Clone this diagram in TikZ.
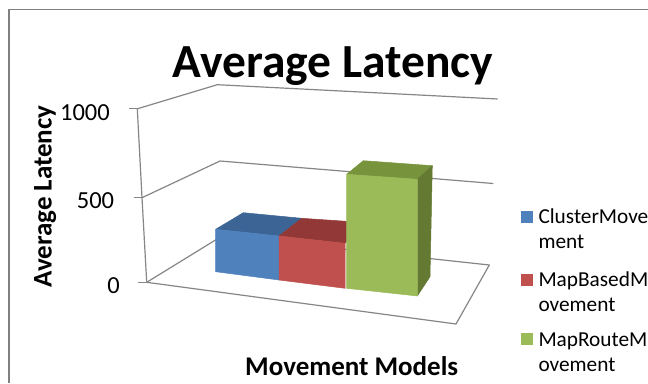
\documentclass[tikz,border=0pt]{standalone}
\usepackage{fontspec}
\setmainfont{Carlito}
\begin{document}
\begin{tikzpicture}[x=1pt,y=-1pt,
  grid/.style={draw=gridgray,line width=1.2pt,line join=round},
  frame/.style={draw=framegray,line width=1.8pt},
  tick/.style={font=\fontsize{24.5}{28}\selectfont,inner sep=0pt,anchor=base east},
  axtitle/.style={font=\bfseries\fontsize{27}{31}\selectfont,inner sep=0pt,anchor=base},
  legtext/.style={font=\fontsize{21.3}{25}\selectfont,inner sep=0pt,anchor=base west},
  legbox/.style={minimum size=11.5pt,inner sep=0pt,draw=none},
  face/.style={fill=#1,draw=#1,line width=0.5pt,line join=round}]
\definecolor{gridgray}{RGB}{134,134,134}
\definecolor{framegray}{RGB}{128,128,128}
\definecolor{bluefront}{RGB}{79,129,189}
\definecolor{bluetop}{RGB}{60,100,148}
\definecolor{redfront}{RGB}{192,80,77}
\definecolor{redtop}{RGB}{146,56,55}
\definecolor{greenfront}{RGB}{155,187,89}
\definecolor{greentop}{RGB}{119,147,60}
\definecolor{greenside}{RGB}{100,122,50}
\useasboundingbox[fill=white] (0,0) rectangle (648,383);
% frame
\coordinate (fc) at (8.8,9.5);
\coordinate (fr) at (648,9.5);
\coordinate (fb) at (8.8,383);
\draw[frame] (fr) -- (fc) -- (fb);
% axis geometry
\coordinate (L0) at (146.7,282.3);
\coordinate (L5) at (142,197.7);
\coordinate (L10) at (137.3,108.8);
\coordinate (B0) at (222,236);
\coordinate (B5) at (220,161);
\coordinate (B10) at (217.3,84.7);
\coordinate (R0) at (489.3,265);
\coordinate (R5) at (493.3,183.5);
\coordinate (R10) at (497.7,99);
\coordinate (F0) at (456,324);
\coordinate (T0) at (137.7,282.3);
\coordinate (T5) at (133.7,197.7);
\coordinate (T10) at (129.3,108.8);
% walls and floor
\draw[grid] (L10) -- (B10) -- (R10);
\draw[grid] (L5) -- (B5) -- (R5);
\draw[grid] (L0) -- (B0) -- (R0) -- (F0) -- cycle;
\draw[grid] (L10) -- (L5) -- (L0);
\draw[grid] (T10) -- (L10);
\draw[grid] (T5) -- (L5);
\draw[grid] (T0) -- (L0);
% tick labels
\node[tick] (t10) at (110,120) {1000};
\node[tick] (t5) at (114.3,208.3) {500};
\node[tick] (t0) at (120,293.3) {0};
% blue bar
\path[face=bluetop] (215.7,229.3) -- (279,236) -- (301.7,218.3) -- (243.3,212.7) -- cycle;
\path[face=bluefront] (215.7,229.3) -- (279,236) -- (279,280) -- (215.7,271.7) -- cycle;
% red bar
\path[face=redtop] (279,236) -- (345,243.3) -- (364,222.5) -- (301.7,218.3) -- cycle;
\path[face=redfront] (279,236) -- (345,243.3) -- (345,288.3) -- (279,280) -- cycle;
% green bar
\path[face=greentop] (346.7,174.3) -- (417.3,179.3) -- (432.3,165.7) -- (363.3,160.7) -- cycle;
\path[face=greenside] (417.3,179.3) -- (432.3,165.7) -- (430,276.7) -- (417.3,296) -- cycle;
\path[face=greenfront] (346.7,174.3) -- (417.3,179.3) -- (417.3,296) -- (346.7,288.3) -- cycle;
% titles
\node[font=\bfseries\fontsize{47.5}{54}\selectfont,inner sep=0pt,anchor=base] (title) at (333,77) {Average Latency};
\node[axtitle,rotate=90] (ytitle) at (51.5,196.5) {Average Latency};
\node[axtitle] (xtitle) at (351.7,375) {Movement Models};
% legend
\node[legbox,fill=bluefront] (lb1) at (526.8,217.2) {};
\node[legbox,fill=redfront] (lb2) at (526.8,280) {};
\node[legbox,fill=greenfront] (lb3) at (526.8,339.2) {};
\node[legtext] (la1) at (538.3,223.3) {ClusterMove};
\node[legtext] (la2) at (538.3,248.3) {ment};
\node[legtext] (lr1) at (538.3,286) {MapBasedM};
\node[legtext] (lr2) at (538.3,311) {ovement};
\node[legtext] (lg1) at (538.3,346) {MapRouteM};
\node[legtext] (lg2) at (538.3,371) {ovement};
\end{tikzpicture}
\end{document}
